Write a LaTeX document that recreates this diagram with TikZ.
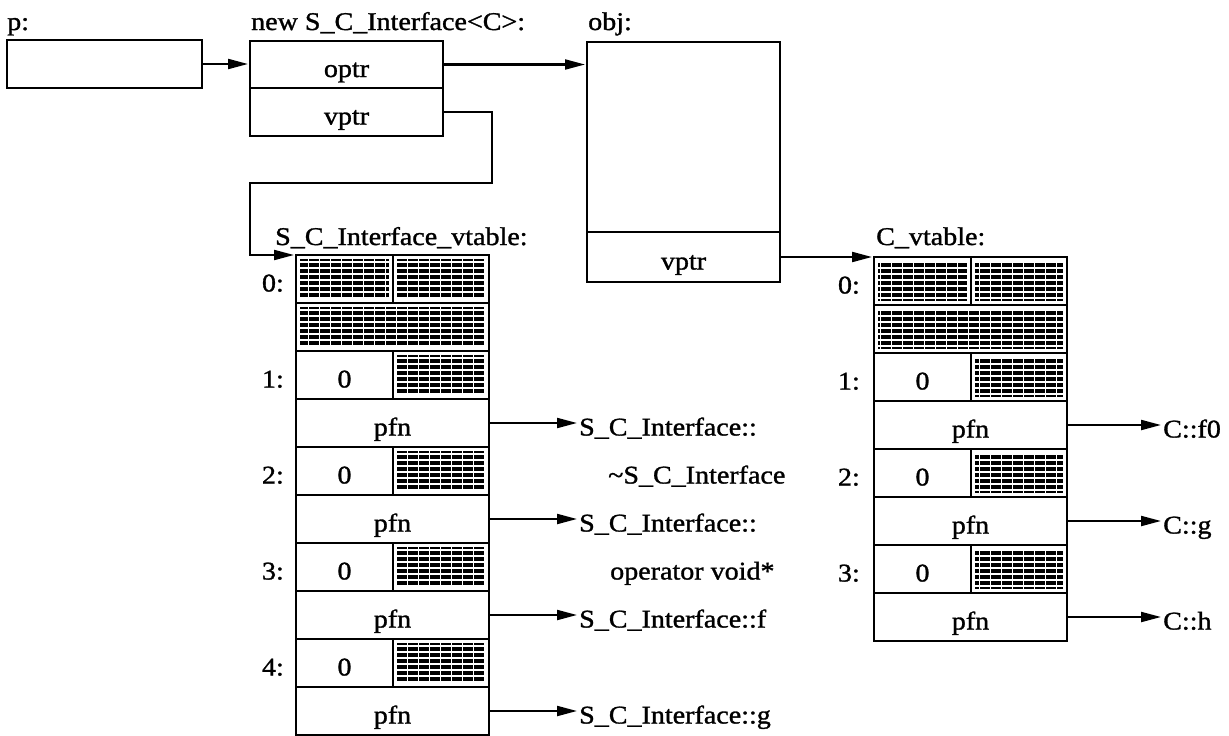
\documentclass[tikz,border=0pt]{standalone}
\usepackage{fontspec}
\setmainfont[FakeStretch=1.1,FakeBold=1.2]{Liberation Serif}
\usetikzlibrary{arrows.meta,patterns.meta}
\begin{document}
\begin{tikzpicture}[x=1pt,y=-1pt,
  txt/.style={font=\fontsize{25.5}{28}\selectfont, text height=25pt, text depth=0pt},
  box/.style={draw, line width=2.8pt, inner sep=0pt, outer sep=0pt, anchor=north west, txt},
  hatch/.style={box, path picture={
     \path[preaction={fill=black}, pattern={Lines[distance=6pt,line width=1.4pt]}, pattern color=white]
       ([shift={(4pt,4pt)}]path picture bounding box.south west) rectangle ([shift={(-4pt,-4pt)}]path picture bounding box.north east);
     \path[pattern={Lines[angle=90,distance=11pt,line width=0.8pt]}, pattern color=white]
       ([shift={(4pt,4pt)}]path picture bounding box.south west) rectangle ([shift={(-4pt,-4pt)}]path picture bounding box.north east);}},
  lab/.style={inner sep=0pt, txt},
  arr/.style={line width=2.1pt, -{Triangle[length=20pt,width=10pt]}, shorten >=2pt},
  wide/.style={minimum width=193, minimum height=48},
  lcell/.style={minimum width=97, minimum height=48},
  rcell/.style={minimum width=96, minimum height=48}]
\useasboundingbox[fill=white] (0,0) rectangle (1229,736);

% top row
\node[box, minimum width=195, minimum height=48] (p) at (7,40) {};
\node[lab, anchor=west] (plab) at (7,17.5) {p:};
\node[box, minimum width=193, minimum height=47] (optr) at (250,41) {optr};
\node[box, minimum width=193, minimum height=48] (nvptr) at (250,88) {vptr};
\node[lab, anchor=west] (nlab) at (251,17.5) {new S\_C\_Interface<C>:};
\node[box, minimum width=193, minimum height=190] (objtop) at (587,42) {};
\node[box, minimum width=193, minimum height=50] (ovptr) at (587,232) {vptr};
\node[lab, anchor=west] (olab) at (588,17.5) {obj:};

% S_C_Interface_vtable
\node[lab, anchor=west] (slab) at (275,232.5) {S\_C\_Interface\_vtable:};
\node[hatch, lcell] (s0a) at (296,255) {};
\node[hatch, rcell] (s0b) at (393,255) {};
\node[hatch, wide]  (s0c) at (296,303) {};
\node[box, lcell] (s1z) at (296,351) {0};
\node[hatch, rcell] (s1h) at (393,351) {};
\node[box, wide] (s1p) at (296,399) {pfn};
\node[box, lcell] (s2z) at (296,447) {0};
\node[hatch, rcell] (s2h) at (393,447) {};
\node[box, wide] (s2p) at (296,495) {pfn};
\node[box, lcell] (s3z) at (296,543) {0};
\node[hatch, rcell] (s3h) at (393,543) {};
\node[box, wide] (s3p) at (296,591) {pfn};
\node[box, lcell] (s4z) at (296,639) {0};
\node[hatch, rcell] (s4h) at (393,639) {};
\node[box, wide] (s4p) at (296,687) {pfn};
\node[lab, anchor=east] (sl0) at (284,279) {0:};
\node[lab, anchor=east] (sl1) at (284,375) {1:};
\node[lab, anchor=east] (sl2) at (284,471) {2:};
\node[lab, anchor=east] (sl3) at (284,567) {3:};
\node[lab, anchor=east] (sl4) at (284,663) {4:};
\node[lab, anchor=west] (f1) at (579,423) {S\_C\_Interface::};
\node[lab, anchor=west] (f1b) at (608,471) {\textasciitilde S\_C\_Interface};
\node[lab, anchor=west] (f2) at (579,519) {S\_C\_Interface::};
\node[lab, anchor=west] (f2b) at (610,567) {operator void*};
\node[lab, anchor=west] (f3) at (579,615) {S\_C\_Interface::f};
\node[lab, anchor=west] (f4) at (579,711) {S\_C\_Interface::g};

% C_vtable
\node[lab, anchor=west] (clab) at (876,232.5) {C\_vtable:};
\node[hatch, lcell] (c0a) at (874,257) {};
\node[hatch, rcell] (c0b) at (971,257) {};
\node[hatch, wide]  (c0c) at (874,305) {};
\node[box, lcell] (c1z) at (874,353) {0};
\node[hatch, rcell] (c1h) at (971,353) {};
\node[box, wide] (c1p) at (874,401) {pfn};
\node[box, lcell] (c2z) at (874,449) {0};
\node[hatch, rcell] (c2h) at (971,449) {};
\node[box, wide] (c2p) at (874,497) {pfn};
\node[box, lcell] (c3z) at (874,545) {0};
\node[hatch, rcell] (c3h) at (971,545) {};
\node[box, wide] (c3p) at (874,593) {pfn};
\node[lab, anchor=east] (cl0) at (860,281) {0:};
\node[lab, anchor=east] (cl1) at (860,377) {1:};
\node[lab, anchor=east] (cl2) at (860,473) {2:};
\node[lab, anchor=east] (cl3) at (860,569) {3:};
\node[lab, anchor=west] (cf0) at (1163,425) {C::f0};
\node[lab, anchor=west] (cg) at (1163,521) {C::g};
\node[lab, anchor=west] (ch) at (1163,617) {C::h};

% connectors
\draw[arr] (p.east) -- (p.east -| optr.west);
\draw[arr] (optr.east) -- (optr.east -| objtop.west);
\coordinate (k1) at (492,183);
\coordinate (k2) at (250,183);
\draw[arr] (nvptr.east) -| (k1) -- (k2) |- (s0a.north west);
\draw[arr] (ovptr.east) -- (c0a.north west);
\draw[arr] (s1p.east) -- (s1p.east -| f1.west);
\draw[arr] (s2p.east) -- (s2p.east -| f2.west);
\draw[arr] (s3p.east) -- (s3p.east -| f3.west);
\draw[arr] (s4p.east) -- (s4p.east -| f4.west);
\draw[arr] (c1p.east) -- (c1p.east -| cf0.west);
\draw[arr] (c2p.east) -- (c2p.east -| cg.west);
\draw[arr] (c3p.east) -- (c3p.east -| ch.west);
\end{tikzpicture}
\end{document}
